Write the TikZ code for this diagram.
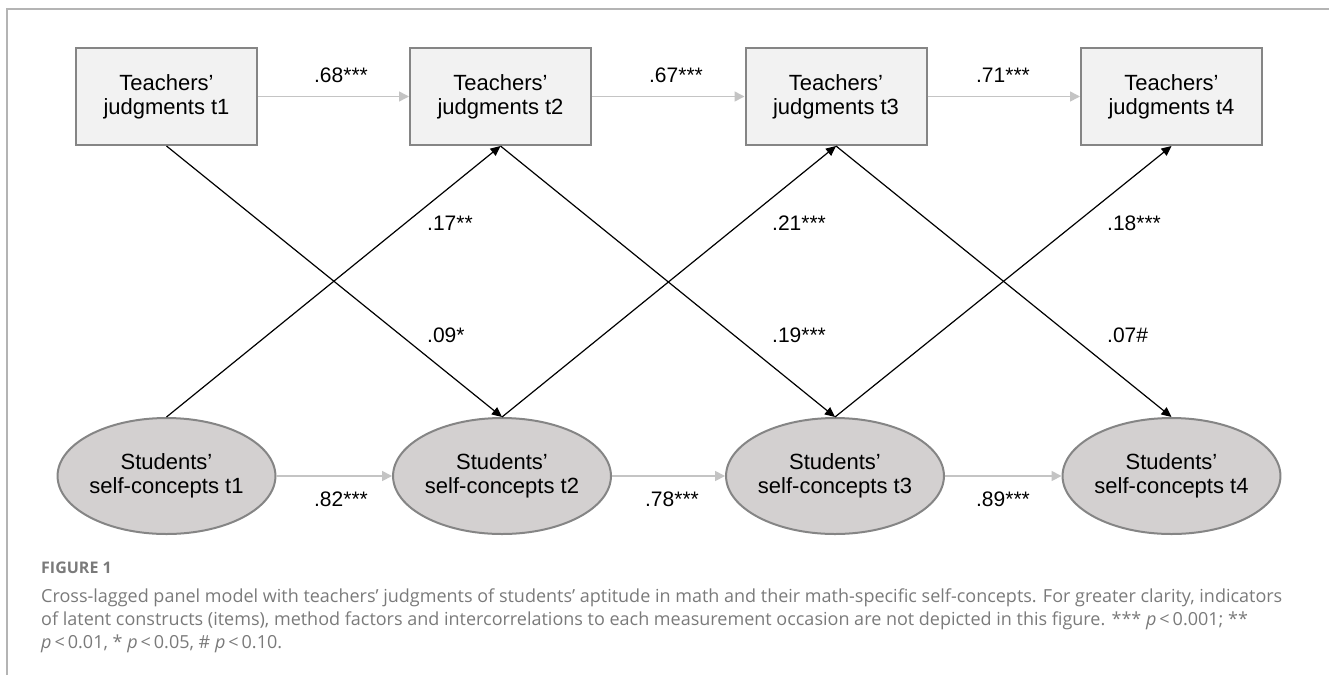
\documentclass[tikz,border=0pt]{standalone}
\usepackage{fontspec}
\setmainfont{Liberation Sans}
\newfontfamily\capfont{Open Sans}
\usetikzlibrary{shapes.geometric,arrows.meta}
\definecolor{boxfill}{HTML}{F2F2F2}
\definecolor{ellfill}{HTML}{D3D0D0}
\definecolor{rimgray}{HTML}{858585}
\definecolor{laggray}{HTML}{C4C4C4}
\definecolor{framegray}{HTML}{B4B4B4}
\definecolor{captext}{HTML}{7A7A7A}

\begin{document}
\begin{tikzpicture}[x={(1pt,0pt)},y={(0pt,-1pt)},
	judg/.style={draw=rimgray,fill=boxfill,line width=2pt,minimum width=181pt,minimum height=97pt,align=center,font=\fontsize{22}{24}\selectfont},
	selfc/.style={ellipse,draw=rimgray,fill=ellfill,line width=2pt,minimum width=202pt,minimum height=116pt,inner sep=0pt,align=center,font=\fontsize{22}{24}\selectfont},
	lag/.style={draw=laggray,line width=1.5pt,-{Triangle[length=10pt,width=10pt]}},
	cross/.style={draw=black,line width=1.2pt,-{Triangle[length=10pt,width=9pt]}},
	coef/.style={font=\fontsize{21}{24}\selectfont},
	capline/.style={anchor=base west,inner sep=0pt,text=captext,font=\capfont\fontsize{18}{20}\selectfont}]
	\useasboundingbox (0,0) rectangle (1329,675);
	% frame
	\draw[framegray,line width=1.5pt] (7,675) -- (7,9) -- (1329,9);
	% teachers' judgments
	\node[judg] (j1) at (166.5,96.5) {Teachers’\\judgments t1};
	\node[judg] (j2) at (500.5,96.5) {Teachers’\\judgments t2};
	\node[judg] (j3) at (836,96.5) {Teachers’\\judgments t3};
	\node[judg] (j4) at (1171.5,96.5) {Teachers’\\judgments t4};
	% students' self-concepts
	\node[selfc] (s1) at (166.5,476) {Students’\\self-concepts t1};
	\node[selfc] (s2) at (502,476) {Students’\\self-concepts t2};
	\node[selfc] (s3) at (835,476) {Students’\\self-concepts t3};
	\node[selfc] (s4) at (1171.5,476) {Students’\\self-concepts t4};
	% stability paths
	\draw[lag] (j1) -- (j2);
	\draw[lag] (j2) -- (j3);
	\draw[lag] (j3) -- (j4);
	\draw[lag] (s1) -- (s2);
	\draw[lag] (s2) -- (s3);
	\draw[lag] (s3) -- (s4);
	% cross-lagged paths
	\draw[cross] (j1.south) -- (s2.north);
	\draw[cross] (j2.south) -- (s3.north);
	\draw[cross] (j3.south) -- (s4.north);
	\draw[cross] (s1.north) -- (j2.south);
	\draw[cross] (s2.north) -- (j3.south);
	\draw[cross] (s3.north) -- (j4.south);
	% coefficients
	\node[coef] (c68) at (341,75) {.68***};
	\node[coef] (c67) at (676,75) {.67***};
	\node[coef] (c71) at (1003,75) {.71***};
	\node[coef] (c82) at (341,499) {.82***};
	\node[coef] (c78) at (672,499) {.78***};
	\node[coef] (c89) at (1003,499) {.89***};
	\node[coef,anchor=west,inner sep=0pt] (c17) at (427,223) {.17**};
	\node[coef,anchor=west,inner sep=0pt] (c09) at (427,335) {.09*};
	\node[coef,anchor=west,inner sep=0pt] (c21) at (772,223) {.21***};
	\node[coef,anchor=west,inner sep=0pt] (c19) at (772,335) {.19***};
	\node[coef,anchor=west,inner sep=0pt] (c18) at (1107,223) {.18***};
	\node[coef,anchor=west,inner sep=0pt] (c07) at (1107,335) {.07\#};
	% caption
	\node[capline,font=\capfont\bfseries\fontsize{16}{18}\selectfont] (fig) at (41,573) {FIGURE 1};
	\node[capline] (cap1) at (41,602) {Cross-lagged panel model with teachers’ judgments of students’ aptitude in math and their math-specific self-concepts. For greater clarity, indicators};
	\node[capline] (cap2) at (41,625) {of latent constructs (items), method factors and intercorrelations to each measurement occasion are not depicted in this figure. *** \textit{p}\,<\,0.001; **};
	\node[capline] (cap3) at (41,648) {\textit{p}\,<\,0.01, * \textit{p}\,<\,0.05, \# \textit{p}\,<\,0.10.};
\end{tikzpicture}
\end{document}
